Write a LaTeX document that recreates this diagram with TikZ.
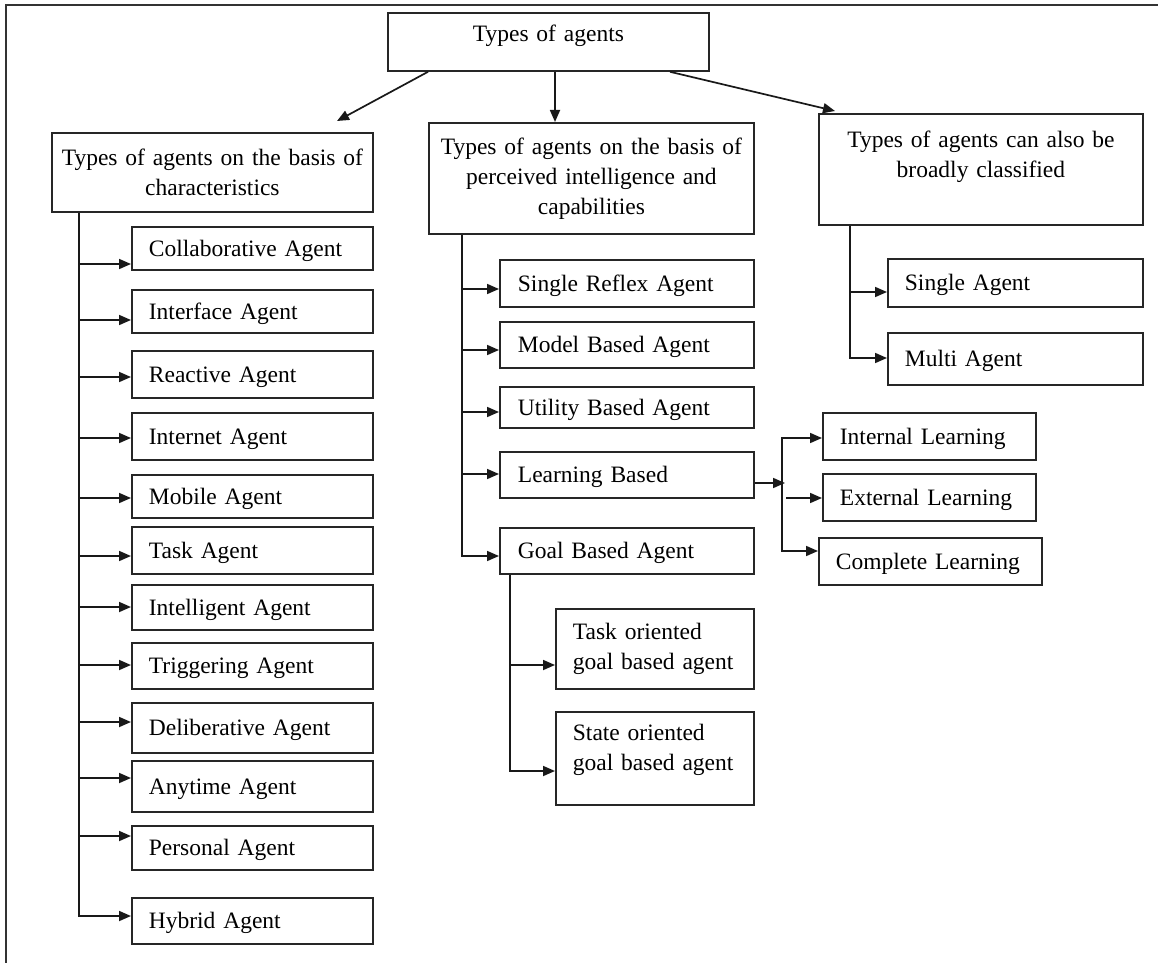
\documentclass[tikz,border=0pt]{standalone}
\usepackage{fontspec}
\setmainfont{Liberation Serif}
\usetikzlibrary{arrows.meta,calc}

\tikzset{
  every node/.style={font=\fontsize{23.5}{30}\selectfont},
  box/.style={draw=black!85, line width=1.8pt, anchor=north west, inner ysep=0pt},
  itembox/.style={box, align=left, text height=20pt, text depth=4pt},
  twoline/.style={box, align=left},
  headbox/.style={box, align=center},
  link/.style={line width=1.7pt, draw=black!90},
  tip/.tip={Triangle[length=12pt,width=10pt]},
  arr/.style={link, -tip},
  biarr/.style={link, tip-tip},
}

% \placebox{style}{side inset}{name}{x1}{y1}{x2}{y2}{text}
\newcommand\placebox[8]{%
  \pgfmathsetmacro\boxw{#6-#4}%
  \pgfmathsetmacro\boxh{#7-#5}%
  \pgfmathsetmacro\textw{\boxw-2*#2}%
  \node[#1, inner xsep=#2pt, text width=\textw pt,
        minimum width=\boxw pt, minimum height=\boxh pt] (#3) at (#4,#5) {#8};}

\begin{document}
\begin{tikzpicture}[x=1pt,y=-1pt]
\useasboundingbox (0,0) rectangle (1158,963);

% frame
\draw[line width=1.6pt, draw=black!80] (1158,5) -- (6,5) -- (6,963);

% root and the three classifications
\placebox{headbox, text height=12pt, text depth=12pt}{4}{top}{387}{12}{708}{70}{Types of agents}
\placebox{headbox}{4}{lh}{51}{132}{372}{211}{\mbox{Types of agents on the basis of}\\characteristics}
\placebox{headbox}{4}{mh}{428}{122}{753}{233}{\mbox{Types of agents on the basis of}\\perceived intelligence and\\capabilities}
\placebox{headbox}{4}{rh}{818}{113}{1142}{224}{Types of agents can also be\\broadly classified\\\mbox{}}

% characteristics
\placebox{itembox}{17}{c1}{131}{226}{372}{269}{Collaborative Agent}
\placebox{itembox}{17}{c2}{131}{289}{372}{332}{Interface Agent}
\placebox{itembox}{17}{c3}{131}{350}{372}{397}{Reactive Agent}
\placebox{itembox}{17}{c4}{131}{412}{372}{459}{Internet Agent}
\placebox{itembox}{17}{c5}{131}{474}{372}{517}{Mobile Agent}
\placebox{itembox}{17}{c6}{131}{526}{372}{573}{Task Agent}
\placebox{itembox}{17}{c7}{131}{584}{372}{629}{Intelligent Agent}
\placebox{itembox}{17}{c8}{131}{642}{372}{688}{Triggering Agent}
\placebox{itembox}{17}{c9}{131}{702}{372}{752}{Deliberative Agent}
\placebox{itembox}{17}{c10}{131}{760}{372}{811}{Anytime Agent}
\placebox{itembox}{17}{c11}{131}{825}{372}{869}{Personal Agent}
\placebox{itembox}{17}{c12}{131}{897}{372}{943}{Hybrid Agent}

% perceived intelligence and capabilities
\placebox{itembox}{18}{m1}{499}{259}{753}{306}{Single Reflex Agent}
\placebox{itembox}{18}{m2}{499}{321}{753}{367}{Model Based Agent}
\placebox{itembox}{18}{m3}{499}{386}{753}{427}{Utility Based Agent}
\placebox{itembox}{18}{m4}{499}{451}{753}{497}{Learning Based}
\placebox{itembox}{18}{m5}{499}{527}{753}{573}{Goal Based Agent}

\placebox{twoline}{17}{g1}{555}{608}{753}{688}{Task oriented\\\mbox{goal based agent}}
\placebox{twoline}{17}{g2}{555}{711}{753}{804}{State oriented\\\mbox{goal based agent}\\[-8pt]\mbox{}}

\placebox{itembox}{17}{l1}{822}{412}{1035}{459}{\mbox{Internal Learning}}
\placebox{itembox}{17}{l2}{822}{473}{1035}{520}{\mbox{External Learning}}
\placebox{itembox}{17}{l3}{818}{537}{1041}{584}{\mbox{Complete Learning}}

% broad classification
\placebox{itembox}{17}{r1}{887}{258}{1142}{306}{Single Agent}
\placebox{itembox}{17}{r2}{887}{332}{1142}{384}{Multi Agent}

% root connectors
\coordinate (tl) at ($(top.south west)+(41,0)$);
\coordinate (tm) at ($(top.south west)+(168,0)$);
\coordinate (tr) at ($(top.south west)+(283,0)$);
\coordinate (tlend) at (337,121);
\coordinate (trend) at (835,111);
\draw[arr] (tl) -- (tlend);
\draw[arr] (tm) -- (tm |- mh.north);
\draw[arr] (tr) -- (trend);

% characteristics bus
\coordinate (lbus) at ($(lh.south west)+(28,0)$);
\foreach \n/\y in {c1/264,c2/320,c3/377,c4/438,c5/498,c6/556,c7/607,c8/665,c9/722,c10/778,c11/836}
  \draw[arr] (lbus |- 0,\y) -- (\n.west |- 0,\y);
\draw[arr] (lbus) |- (c12.west |- 0,916);

% intelligence bus
\coordinate (mbus) at ($(mh.south west)+(34,0)$);
\foreach \n/\y in {m1/289,m2/350,m3/412,m4/474}
  \draw[arr] (mbus |- 0,\y) -- (\n.west |- 0,\y);
\draw[arr] (mbus) |- (m5.west |- 0,556);

% goal based bus
\coordinate (gbus) at ($(m5.south west)+(11,0)$);
\draw[arr] (gbus |- 0,665) -- (g1.west |- 0,665);
\draw[arr] (gbus) |- (g2.west |- 0,771);

% learning bus
\coordinate (lrnin) at (785,483);
\coordinate (lrntop) at (782,438);
\coordinate (lrnext) at (786,498);
\draw[arr] (m4.east |- lrnin) -- (lrnin);
\draw[biarr] (l3.west |- 0,551) -| (lrntop) -- (l1.west |- lrntop);
\draw[arr] (lrnext) -- (l2.west |- lrnext);

% broad classification bus
\coordinate (rbus) at ($(rh.south west)+(32,0)$);
\draw[arr] (rbus |- 0,292) -- (r1.west |- 0,292);
\draw[arr] (rbus) |- (r2.west |- 0,358);
\end{tikzpicture}
\end{document}
